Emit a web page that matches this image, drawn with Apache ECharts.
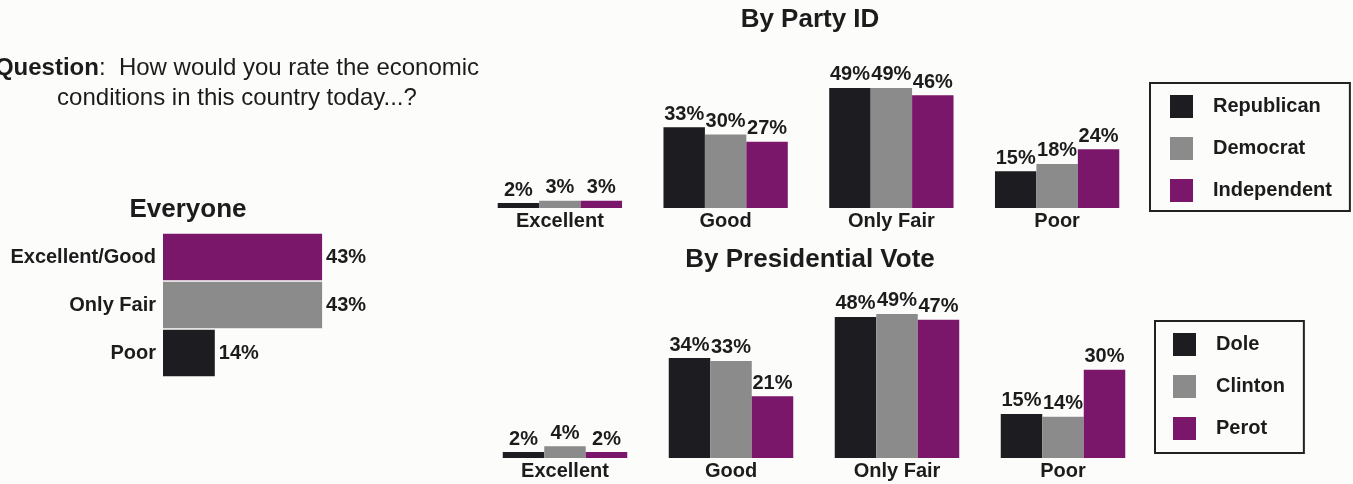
<!DOCTYPE html>
<html>
<head>
<meta charset="utf-8">
<script src="https://cdn.jsdelivr.net/npm/echarts@6/dist/echarts.min.js"></script>
<style>
html,body{margin:0;padding:0;background:#fcfcfb;}
#chart{width:1353px;height:484px;}
</style>
</head>
<body>
<div id="chart"></div>
<script>
// ---- data ----
var everyoneCats = ['Excellent/Good', 'Only Fair', 'Poor'];
var everyoneVals = [43, 43, 14];

var ratingCats = ['Excellent', 'Good', 'Only Fair', 'Poor'];

var partyNames = ['Republican', 'Democrat', 'Independent'];
var republican = [2, 33, 49, 15];
var democrat = [3, 30, 49, 18];
var independent = [3, 27, 46, 24];

var voteNames = ['Dole', 'Clinton', 'Perot'];
var dole = [2, 34, 48, 15];
var clinton = [4, 33, 49, 14];
var perot = [2, 21, 47, 30];

var questionLine1 = '{b|Question}:  How would you rate the economic';
var questionLine2 = 'conditions in this country today...?';

// ---- styles ----
var FONT = '"Liberation Sans", Arial, Helvetica, sans-serif';
var INK = '#1c1c1c';
var BLACK = '#1d1c20';
var GRAY = '#8b8b8b';
var PURPLE = '#7a176a';
var colors3 = [BLACK, GRAY, PURPLE];
var everyoneColors = [PURPLE, GRAY, BLACK];

var chart = echarts.init(document.getElementById('chart'), null, {renderer: 'canvas'});

function pct(p) { return p.value + '%'; }

var barLabel = {
  show: true, position: 'top', distance: 3,
  formatter: pct, color: INK, fontFamily: FONT, fontWeight: 'bold', fontSize: 20
};

function groupSeries(names, arrays, gi) {
  return names.map(function (n, i) {
    return {
      name: n, type: 'bar', xAxisIndex: gi, yAxisIndex: gi,
      data: arrays[i], barGap: '0%', barCategoryGap: '25%',
      itemStyle: {color: colors3[i]},
      label: barLabel,
      silent: true
    };
  });
}

var catAxisLabel = {color: INK, fontFamily: FONT, fontWeight: 'bold', fontSize: 20, margin: 3};

var option = {
  backgroundColor: '#fcfcfb',
  animation: false,
  color: colors3,
  graphic: [
    {type: 'text', x: 237, y: 68, style: {text: questionLine1, textAlign: 'center', textVerticalAlign: 'middle',
      font: '24px ' + FONT, fill: INK, rich: {b: {fontWeight: 'bold', fontSize: 24, fontFamily: FONT, fill: INK}}}},
    {type: 'text', x: 237, y: 98, style: {text: questionLine2, textAlign: 'center', textVerticalAlign: 'middle',
      font: '24px ' + FONT, fill: INK}},
    {type: 'text', x: 188, y: 210, style: {text: 'Everyone', textAlign: 'center', textVerticalAlign: 'middle',
      font: 'bold 26px ' + FONT, fill: INK}},
    {type: 'text', x: 810, y: 20, style: {text: 'By Party ID', textAlign: 'center', textVerticalAlign: 'middle',
      font: 'bold 26px ' + FONT, fill: INK}},
    {type: 'text', x: 810, y: 260, style: {text: 'By Presidential Vote', textAlign: 'center', textVerticalAlign: 'middle',
      font: 'bold 26px ' + FONT, fill: INK}}
  ],
  legend: [
    {
      data: partyNames, orient: 'vertical', left: 1150, top: 83,
      itemWidth: 23, itemHeight: 23, itemGap: 19, icon: 'rect',
      padding: [12, 18, 9, 20], borderColor: '#222', borderWidth: 2,
      backgroundColor: '#fcfcfb', selectedMode: false,
      textStyle: {color: INK, fontFamily: FONT, fontWeight: 'bold', fontSize: 20, padding: [0, 0, 0, 15]}
    },
    {
      data: voteNames, orient: 'vertical', left: 1155, top: 321,
      itemWidth: 23, itemHeight: 23, itemGap: 19, icon: 'rect',
      padding: [12, 19, 13, 18], borderColor: '#222', borderWidth: 2,
      backgroundColor: '#fcfcfb', selectedMode: false,
      textStyle: {color: INK, fontFamily: FONT, fontWeight: 'bold', fontSize: 20, padding: [0, 0, 0, 15]}
    }
  ],
  grid: [
    {left: 163, top: 233, width: 185, height: 144},
    {left: 477, top: 61, width: 663, height: 147},
    {left: 482, top: 311, width: 664, height: 147}
  ],
  xAxis: [
    {type: 'value', gridIndex: 0, min: 0, max: 50, show: false},
    {type: 'category', gridIndex: 1, data: ratingCats, axisLine: {show: false}, axisTick: {show: false}, axisLabel: catAxisLabel},
    {type: 'category', gridIndex: 2, data: ratingCats, axisLine: {show: false}, axisTick: {show: false}, axisLabel: catAxisLabel}
  ],
  yAxis: [
    {type: 'category', gridIndex: 0, data: everyoneCats, inverse: true,
      axisLine: {show: false}, axisTick: {show: false},
      axisLabel: {color: INK, fontFamily: FONT, fontWeight: 'bold', fontSize: 20, margin: 7}},
    {type: 'value', gridIndex: 1, min: 0, max: 60, show: false, splitLine: {show: false}},
    {type: 'value', gridIndex: 2, min: 0, max: 50, show: false, splitLine: {show: false}}
  ],
  series: [
    {
      name: 'Everyone', type: 'bar', xAxisIndex: 0, yAxisIndex: 0, barCategoryGap: '3%',
      data: everyoneVals.map(function (v, i) { return {value: v, itemStyle: {color: everyoneColors[i]}}; }),
      label: {show: true, position: 'right', distance: 4, formatter: pct, color: INK, fontFamily: FONT, fontWeight: 'bold', fontSize: 20},
      silent: true
    }
  ].concat(groupSeries(partyNames, [republican, democrat, independent], 1))
   .concat(groupSeries(voteNames, [dole, clinton, perot], 2))
};

chart.setOption(option);
</script>
</body>
</html>
